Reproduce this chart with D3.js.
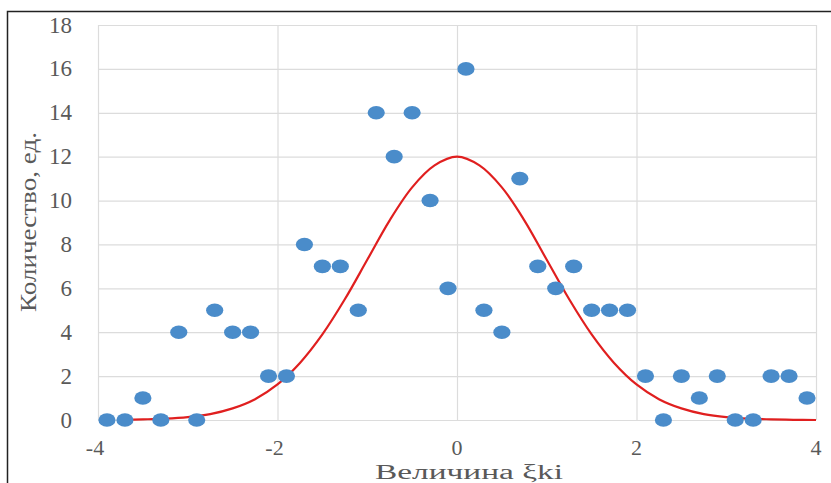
<!DOCTYPE html>
<html>
<head>
<meta charset="utf-8">
<script src="https://cdn.jsdelivr.net/npm/d3@7"></script>
<style>
  body { margin: 0; background: #fff; }
  svg { display: block; font-family: 'Liberation Serif', 'Times New Roman', serif; }
</style>
</head>
<body>
<svg id="chart" width="831" height="483"></svg>
<script>
// observed counts at each ξki step
const xValues = [-3.9, -3.7, -3.5, -3.3, -3.1, -2.9, -2.7, -2.5, -2.3, -2.1,
    -1.9, -1.7, -1.5, -1.3, -1.1, -0.9, -0.7, -0.5, -0.3, -0.1,
    0.1, 0.3, 0.5, 0.7, 0.9, 1.1, 1.3, 1.5, 1.7, 1.9,
    2.1, 2.3, 2.5, 2.7, 2.9, 3.1, 3.3, 3.5, 3.7, 3.9];
const counts = [0, 0, 1, 0, 4, 0, 5, 4, 4, 2,
    2, 8, 7, 7, 5, 14, 12, 14, 10, 6,
    16, 5, 4, 11, 7, 6, 7, 5, 5, 5,
    2, 0, 2, 1, 2, 0, 0, 2, 2, 1];

// red curve
const curveX = [-3.75, -3.5, -3.25, -3, -2.75, -2.5, -2.25, -2, -1.75, -1.5, -1.25, -1,
    -0.75, -0.5, -0.25, 0, 0.25, 0.5, 0.75, 1, 1.25, 1.5, 1.75, 2,
    2.25, 2.5, 2.75, 3, 3.25, 3.5, 3.75, 4];
const curveY = [0.01, 0.03, 0.06, 0.13, 0.27, 0.53, 0.95, 1.62, 2.6, 3.9, 5.5, 7.3,
    9.1, 10.6, 11.6, 12, 11.6, 10.6, 9.1, 7.3, 5.5, 3.9, 2.6, 1.62,
    0.95, 0.53, 0.27, 0.13, 0.06, 0.03, 0.01, 0];

const xTicks = [-4, -2, 0, 2, 4];
const yTicks = [0, 2, 4, 6, 8, 10, 12, 14, 16, 18];

const svg = d3.select('#chart');
const plotLeft = 98, plotRight = 816, plotTop = 25, plotBottom = 420;

const x = d3.scaleLinear().domain([-4, 4]).range([plotLeft, plotRight]);
const y = d3.scaleLinear().domain([0, 18]).range([plotBottom, plotTop]);

// outer frame
svg.append('rect')
    .attr('x', 7.5).attr('y', 11.5)
    .attr('width', 900).attr('height', 600)
    .attr('fill', 'none')
    .attr('stroke', '#222')
    .attr('stroke-width', 1.5);

// grid
svg.append('g')
    .attr('transform', `translate(0,${plotBottom})`)
    .call(d3.axisBottom(x).tickValues(xTicks).tickSize(-(plotBottom - plotTop)).tickFormat(''))
    .call(g => g.select('.domain').remove())
    .call(g => g.selectAll('line').attr('stroke', '#dcdcdc').attr('stroke-width', 1.2));

svg.append('g')
    .attr('transform', `translate(${plotLeft},0)`)
    .call(d3.axisLeft(y).tickValues(yTicks).tickSize(-(plotRight - plotLeft)).tickFormat(''))
    .call(g => g.select('.domain').remove())
    .call(g => g.selectAll('line').attr('stroke', '#dcdcdc').attr('stroke-width', 1.2));

// tick labels
svg.append('g').selectAll('text').data(yTicks).enter().append('text')
    .attr('x', 72)
    .attr('y', d => y(d))
    .attr('dy', '0.33em')
    .attr('text-anchor', 'end')
    .attr('fill', '#595959')
    .style('font-size', '23px')
    .text(d => d);

svg.append('g').selectAll('text').data(xTicks).enter().append('text')
    .attr('x', d => x(d) - (d < 0 ? 3 : 0))
    .attr('y', 455)
    .attr('text-anchor', 'middle')
    .attr('fill', '#595959')
    .style('font-size', '22px')
    .text(d => d);

// axis titles
svg.append('text')
    .attr('x', 469).attr('y', 479)
    .attr('text-anchor', 'middle')
    .attr('fill', '#595959')
    .style('font-size', '20px')
    .attr('textLength', 188)
    .attr('lengthAdjust', 'spacingAndGlyphs')
    .text('Величина ξki');

svg.append('text')
    .attr('transform', 'translate(36,222) rotate(-90)')
    .attr('text-anchor', 'middle')
    .attr('fill', '#595959')
    .style('font-size', '23px')
    .attr('textLength', 180)
    .attr('lengthAdjust', 'spacingAndGlyphs')
    .text('Количество, ед.');

// fitted curve
const line = d3.line()
    .x(d => x(d[0]))
    .y(d => y(d[1]))
    .curve(d3.curveCatmullRom);

svg.append('path')
    .datum(d3.zip(curveX, curveY))
    .attr('d', line)
    .attr('fill', 'none')
    .attr('stroke', '#e01f1f')
    .attr('stroke-width', 2.2);

// observed points
svg.append('g').selectAll('ellipse').data(d3.zip(xValues, counts)).enter().append('ellipse')
    .attr('cx', d => x(d[0]))
    .attr('cy', d => y(d[1]))
    .attr('rx', 8.6)
    .attr('ry', 6.8)
    .attr('fill', '#4a8cca');
</script>
</body>
</html>
